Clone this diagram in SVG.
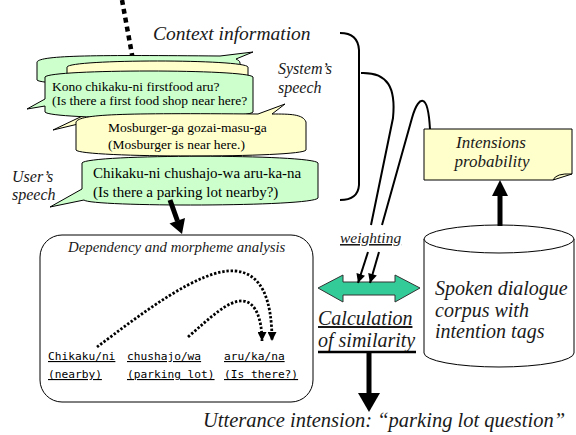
<svg xmlns="http://www.w3.org/2000/svg" width="576" height="435" viewBox="0 0 576 435">
<defs>
<style>
.cg{fill:#ccffcc;stroke:#000;stroke-width:1}
.cy{fill:#ffffcc;stroke:#000;stroke-width:1}
.t{font-family:'Liberation Serif','DejaVu Serif','Times New Roman',serif;fill:#000}
.i{font-family:'Liberation Serif','DejaVu Serif','Times New Roman',serif;font-style:italic;fill:#1a1a1a}
.m{font-family:'DejaVu Sans Mono','Liberation Mono',monospace;font-size:11.2px;text-decoration:underline;fill:#000}
.ln{fill:none;stroke:#000;stroke-width:2}
.dot{fill:none;stroke:#000;stroke-width:2.8;stroke-dasharray:2.4 1.8}
</style>
<marker id="ah" viewBox="0 0 10 10" refX="10" refY="5" markerUnits="userSpaceOnUse" markerWidth="10" markerHeight="9" orient="auto">
<path d="M0,0 L10,5 L0,10 Z" fill="#000"/>
</marker>
</defs>
<rect width="576" height="435" fill="#fff"/>

<line x1="122" y1="0" x2="133" y2="60" stroke="#000" stroke-width="4.5" stroke-dasharray="5 4"/>

<g id="callouts">
<path id="c1" class="cg" d="M37,62 C40,55 100,55 220,56 L253,52 L236,59 C238,60 240,61 240,63 L240,80 C236,87 41,87 37,80 Z"/>
<path id="c2" class="cy" d="M67,67 C70,59 245,59 248,67 L248,85 C246,89 240,90 221,90 L53,130 L137,90 L75,90 C70,90 67,88 67,85 Z"/>
<g id="c3">
<path class="cg" d="M45,77 C50,69 248,69 253,77 L253,112 C248,120 50,120 45,112 L45,106 L27,109 L45,99 Z"/>
<text class="t" x="52" y="91" font-size="13.5">Kono chikaku-ni firstfood aru?</text>
<text class="t" x="52" y="105" font-size="13.5">(Is there a first food shop near here?</text>
</g>
<g id="c4">
<path class="cy" d="M76,122 C80,114 120,113 258,114 L285,104 L272,114 C290,114 303,114 306,122 L306,150 C303,158 80,158 76,150 Z"/>
<text class="t" x="108" y="132" font-size="13.5">Mosburger-ga gozai-masu-ga</text>
<text class="t" x="108" y="149" font-size="13.5">(Mosburger is near here.)</text>
</g>
<g id="c5">
<path class="cg" d="M82,163 C87,154 313,154 318,163 L318,198 C313,207 90,207 84,200 L50,207 L82,189 Z"/>
<text class="t" x="93" y="178" font-size="15">Chikaku-ni chushajo-wa aru-ka-na</text>
<text class="t" x="93" y="197" font-size="15">(Is there a parking lot nearby?)</text>
</g>
</g>

<g id="labels">
<text class="i" x="153" y="40" font-size="19.5">Context information</text>
<text class="i" x="278" y="74" font-size="16">System’s</text>
<text class="i" x="278" y="93" font-size="16">speech</text>
<text class="i" x="12" y="182" font-size="16">User’s</text>
<text class="i" x="12" y="200" font-size="16">speech</text>
<text class="i" x="203" y="427" font-size="20.5">Utterance intension: “parking lot question”</text>
</g>

<g id="dependency">
<rect x="40" y="235" width="273" height="167" rx="22" ry="22" fill="#fff" stroke="#000" stroke-width="1"/>
<text class="i" x="68" y="252" font-size="14.8">Dependency and morpheme analysis</text>
<text class="m" x="48" y="360">Chikaku/ni</text>
<text class="m" x="48" y="378">(nearby)</text>
<text class="m" x="127" y="360">chushajo/wa</text>
<text class="m" x="127" y="378">(parking lot)</text>
<text class="m" x="224" y="360">aru/ka/na</text>
<text class="m" x="224" y="378">(Is there?)</text>
<path class="dot" d="M97,347 C140,315 200,268 235,271 C262,273 272,300 272,341" marker-end="url(#ah)"/>
<path class="dot" d="M188,337 C210,318 228,300 243,301 C256,302 262,320 262,341" marker-end="url(#ah)"/>
</g>

<g id="intensions">
<path d="M424,129 H572 V174 L553,180 H424 Z" fill="#ffffcc" stroke="#000" stroke-width="1"/>
<path d="M553,180 Q556,173 572,174" fill="none" stroke="#000" stroke-width="1"/>
<text class="i" x="491" y="148" font-size="17" text-anchor="middle">Intensions</text>
<text class="i" x="492" y="167" font-size="17" text-anchor="middle">probability</text>
</g>

<g id="corpus">
<path d="M424,239 V353 A75,14 0 0 0 574,353 V239" fill="#fff" stroke="#000" stroke-width="1"/>
<ellipse cx="499" cy="239" rx="75" ry="14" fill="#fff" stroke="#000" stroke-width="1"/>
<text class="i" x="435" y="295" font-size="20">Spoken dialogue</text>
<text class="i" x="435" y="317" font-size="20">corpus with</text>
<text class="i" x="435" y="338" font-size="20">intention tags</text>
</g>

<g id="similarity">
<polygon points="318,288 343,275 343,282 395,282 395,275 420,288 395,302 395,295 343,295 343,302" fill="#33cc99" stroke="#333" stroke-width="1"/>
<text class="i" x="340" y="243" font-size="15.5" text-decoration="underline">weighting</text>
<text class="i" x="318" y="325" font-size="20" text-decoration="underline">Calculation</text>
<text class="i" x="318" y="347" font-size="20">of similarity</text>
<line x1="318" y1="352" x2="416" y2="352" stroke="#000" stroke-width="2.5"/>
</g>

<g id="connectors">
<path class="ln" d="M340,33 Q358,33 359,50 L359,185 Q358,200 340,200"/>
<path class="ln" d="M361,73 C388,72 396,88 393,118 L371,225"/>
<path class="ln" d="M382,225 L412,118 C416,104 420,100 423,101 C427,102 429,112 430,129"/>
<path d="M368,252 L358,283" stroke="#000" stroke-width="2" marker-end="url(#ah)"/>
<path d="M379,252 L370,283" stroke="#000" stroke-width="2" marker-end="url(#ah)"/>
<line x1="170" y1="200" x2="177.5" y2="221" stroke="#000" stroke-width="5"/>
<polygon points="182,234 169.5,223.5 185,218" fill="#000"/>
<line x1="500" y1="226" x2="500" y2="195" stroke="#000" stroke-width="5"/>
<polygon points="500,180 508,196 492,196" fill="#000"/>
<line x1="369" y1="352" x2="369" y2="394" stroke="#000" stroke-width="5"/>
<polygon points="369,412 358,393 380,393" fill="#000"/>
</g>
</svg>
